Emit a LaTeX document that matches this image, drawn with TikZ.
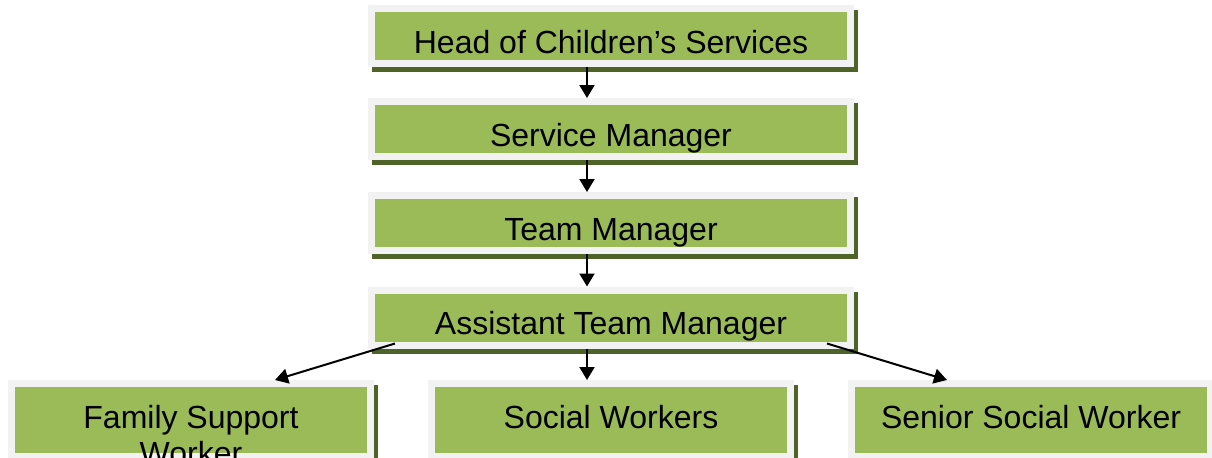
\documentclass[tikz,border=0pt]{standalone}
\usepackage{fontspec}
\setmainfont{Liberation Sans}
\usetikzlibrary{arrows.meta}
\definecolor{boxgreen}{RGB}{155,187,89}
\definecolor{framegrey}{RGB}{242,242,242}
\definecolor{shadeolive}{RGB}{79,98,40}

\begin{document}
\begin{tikzpicture}[x=0.5pt, y=-0.5pt,
  role/.style={fill=boxgreen, draw=framegrey, line width=3.5pt, inner sep=0pt,
    preaction={draw=shadeolive, fill=shadeolive,
      transform canvas={shift={(2pt,-2.5pt)}}},
    font=\fontsize{16pt}{18pt}\selectfont, align=center, text depth=0pt},
  rank/.style={role, minimum width=239.5pt, minimum height=27.5pt,
    text height=17pt},
  staff/.style={role, minimum width=179.5pt, minimum height=36.5pt,
    text height=8pt},
  arr/.style={-{Triangle[length=6.5pt, width=7.5pt]}, line width=1pt},
]
  \useasboundingbox (0,0) rectangle (1212,457);

  \node[rank] (hcs) at (611,36) {Head of Children’s Services};
  \node[rank] (sm) at (611,129) {Service Manager};
  \node[rank] (tm) at (611,223) {Team Manager};
  \node[rank] (atm) at (611,317.5) {Assistant Team Manager};

  \node[staff] (fsw) at (191,420)
    {\begin{tabular}[t]{@{}c@{}}Family Support\\Worker\end{tabular}};
  \node[staff] (sw) at (611,420) {Social Workers};
  \node[staff] (ssw) at (1031,420) {Senior Social Worker};

  \draw[arr] ([xshift=-12pt]hcs.south) -- ([xshift=-12pt]sm.north);
  \draw[arr] ([xshift=-12pt]sm.south) -- ([xshift=-12pt]tm.north);
  \draw[arr] ([xshift=-12pt]tm.south) -- ([xshift=-12pt]atm.north);
  \draw[arr] ([xshift=-12pt]atm.south) -- ([xshift=-12pt]sw.north);
  \draw[arr] ([shift={(-108pt,2.5pt)}]atm.south) -- ([xshift=42pt]fsw.north);
  \draw[arr] ([shift={(108pt,2.5pt)}]atm.south) -- ([xshift=-42pt]ssw.north);
\end{tikzpicture}
\end{document}
